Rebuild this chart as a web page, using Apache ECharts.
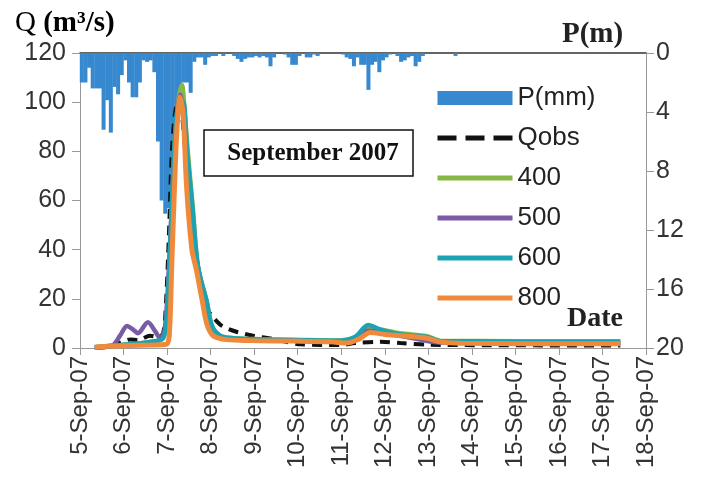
<!DOCTYPE html>
<html>
<head>
<meta charset="utf-8">
<script src="https://cdn.jsdelivr.net/npm/echarts@6/dist/echarts.min.js"></script>
<style>
html,body{margin:0;padding:0;background:#fff}
#main{width:703px;height:482px}
</style>
</head>
<body>
<div id="main"></div>
<script>
// rain in 2-hour steps starting 5-Sep 00:00
var rainStart = 5;
var rainStep = 1 / 12;
var rain2h = [
    2.0, 2.0, 1.0, 2.4, 2.4, 2.4, 5.2, 3.2, 5.4, 2.3, 2.8, 1.5,
    0.5, 2.0, 3.0, 3.0, 2.0, 0.5, 0.6, 0.5, 1.3, 6.0, 10.0, 10.9,
    10.5, 8.0, 6.0, 4.0, 2.0, 2.0, 2.7, 0.6, 0.3, 0.3, 0.8, 0.3,
    0.2, 0.2, 0, 0.2, 0, 0, 0.2, 0.4, 0.6, 0.4, 0.3, 0.3,
    0.2, 0.3, 0.2, 0.3, 0.9, 0.3, 0, 0, 0.1, 0.3, 0.8, 0.8,
    0.2, 0, 0.3, 0.3, 0.1, 0.2, 0, 0, 0, 0, 0, 0,
    0.1, 0.3, 0.4, 0.9, 0.3, 0.8, 0.8, 2.5, 0.8, 0.6, 1.3, 0.5,
    0.3, 0.1, 0, 0.2, 0.6, 0.5, 0.3, 0.2, 0.9, 0.6, 0.2, 0,
    0, 0, 0, 0, 0, 0, 0, 0.2
];

var qobs = [[5.34,0.2],[5.69,0.5],[5.97,2.5],[6.15,3.5],[6.33,3.2],[6.61,5],[6.79,4.5],[6.91,6],
    [6.98,20],[7.05,50],[7.11,80],[7.18,95],[7.25,100],[7.34,95],[7.44,75],[7.57,45],[7.76,25],
    [7.92,16],[8.06,12.5],[8.26,9],[8.61,6.5],[8.98,5],[9.48,3.5],[10.06,1.5],[10.98,1.2],
    [11.32,2.0],[11.9,2.5],[12.36,2],[13.05,1.3],[17.41,1.0]];

var q400 = [[5.34,0.3],[6.15,1.5],[6.61,2.5],[6.91,4],[7.0,15],[7.09,48],[7.18,85],[7.27,102],
    [7.34,107],[7.42,92],[7.5,75],[7.6,55],[7.71,33],[7.91,19],[8.03,9],[8.22,5],[8.52,4],
    [9.14,3.6],[10.06,3.3],[10.98,3.1],[11.32,4.5],[11.62,8.3],[11.9,7.5],[12.36,6],[12.97,4.8],
    [13.28,3.0],[17.41,2.7]];

var q500 = [[5.34,0.3],[5.74,1],[5.92,5],[6.08,9],[6.22,7.5],[6.33,6],[6.56,10.5],[6.72,7],
    [6.84,4],[6.95,8],[7.05,35],[7.14,70],[7.23,95],[7.3,103],[7.39,92],[7.48,70],[7.6,45],
    [7.76,28],[7.92,12],[8.1,5],[8.52,3.5],[10.06,3],[11.13,2.5],[11.62,7],[12.36,5],
    [13.28,2.2],[17.41,2.0]];

var q600 = [[5.34,0.3],[6.15,1.5],[6.61,2.5],[6.91,4],[7.0,15],[7.09,50],[7.18,85],[7.28,100],
    [7.37,100],[7.46,80],[7.57,60],[7.71,33],[7.91,19],[8.03,9],[8.22,5],[8.52,4],[9.14,3.5],
    [10.06,3.2],[10.98,3.0],[11.32,4.5],[11.62,9.4],[11.9,7.5],[12.36,5.5],[12.97,4.5],
    [13.28,2.8],[17.41,2.5]];

var q800 = [[5.34,0.3],[5.69,0.8],[6.15,1.0],[6.61,1.2],[6.98,1.5],[7.05,5],[7.11,35],[7.18,70],
    [7.23,90],[7.3,102],[7.37,95],[7.45,65],[7.57,40],[7.67,32],[7.8,20],[7.91,10],[8.06,5],
    [8.37,3.4],[8.91,3.0],[9.9,2.8],[10.75,2.5],[11.13,2.0],[11.39,3.5],[11.67,6.3],[12.01,5.5],
    [12.36,5.0],[12.97,4.0],[13.28,2.5],[13.74,1.9],[17.41,1.7]];

var rainData = rain2h.map(function (v, i) {
    return [rainStart + (i + 0.5) * rainStep, v];
});

var myChart = echarts.init(document.getElementById('main'));
var serif = 'Liberation Serif';
var sans = 'Liberation Sans';

function lineSeries(name, data, color, width, dashed) {
    return {
        name: name,
        type: 'line',
        smooth: 0.3,
        symbol: 'none',
        yAxisIndex: 0,
        lineStyle: {color: color, width: width, type: dashed ? [10, 7] : 'solid'},
        itemStyle: {color: color},
        data: data
    };
}

// hide the dot that the legend puts on line icons
function lineKey(name, dash) {
    var k = {name: name, itemStyle: {opacity: 0}};
    if (dash) k.lineStyle = {type: dash};
    return k;
}

var option = {
    backgroundColor: '#fff',
    animation: false,
    grid: {left: 80, right: 57, top: 53, bottom: 134},
    legend: {
        orient: 'vertical',
        left: 430,
        top: 80,
        itemWidth: 75,
        itemHeight: 14,
        itemGap: 14,
        lineStyle: {width: 5},
        textStyle: {fontFamily: sans, fontSize: 26, color: '#222', lineHeight: 20},
        data: [
            {name: 'P(mm)', icon: 'rect'},
            lineKey('Qobs', [19, 9]), lineKey('400'), lineKey('500'), lineKey('600'), lineKey('800')
        ]
    },
    xAxis: [{
        type: 'value',
        min: 5,
        max: 18,
        interval: 1,
        axisLine: {lineStyle: {color: '#999'}},
        axisTick: {show: true, length: 7, lineStyle: {color: '#999'}},
        splitLine: {show: false},
        axisLabel: {
            rotate: 90,
            margin: 8,
            fontFamily: sans,
            fontSize: 24,
            color: '#333',
            formatter: function (v) { return v + '-Sep-07'; }
        }
    }, {
        type: 'value',
        position: 'top',
        min: 5,
        max: 18,
        axisLine: {show: true, lineStyle: {color: '#333', width: 1.5}},
        axisTick: {show: false},
        axisLabel: {show: false},
        splitLine: {show: false}
    }],
    yAxis: [{
        type: 'value',
        min: 0,
        max: 120,
        interval: 20,
        axisLine: {show: true, lineStyle: {color: '#999'}},
        axisTick: {show: true, length: 8, lineStyle: {color: '#999'}},
        splitLine: {show: false},
        axisLabel: {fontFamily: sans, fontSize: 25, color: '#333', margin: 14}
    }, {
        type: 'value',
        min: 0,
        max: 20,
        interval: 4,
        inverse: true,
        position: 'right',
        axisLine: {show: true, lineStyle: {color: '#999'}},
        axisTick: {show: true, length: 8, lineStyle: {color: '#999'}},
        splitLine: {show: false},
        axisLabel: {fontFamily: sans, fontSize: 25, color: '#333', margin: 10}
    }],
    series: [
        {
            name: 'P(mm)',
            type: 'bar',
            xAxisIndex: 0,
            yAxisIndex: 1,
            barWidth: 4,
            itemStyle: {color: '#3688cf'},
            data: rainData
        },
        lineSeries('Qobs', qobs, '#111', 4, true),
        lineSeries('400', q400, '#86b845', 4.5, false),
        lineSeries('500', q500, '#7a5ba6', 4.5, false),
        lineSeries('600', q600, '#1ba2b3', 4.5, false),
        lineSeries('800', q800, '#ef8a3c', 5, false)
    ],
    graphic: [
        {
            type: 'text',
            left: 15,
            top: 9,
            style: {
                text: '{a|Q }{b|(m³/s)}',
                rich: {
                    a: {fontFamily: serif, fontSize: 29, color: '#222'},
                    b: {fontFamily: serif, fontSize: 29, fontWeight: 'bold', color: '#222'}
                }
            }
        },
        {
            type: 'text',
            left: 562,
            top: 20,
            style: {text: 'P(m)', fontFamily: serif, fontSize: 29, fontWeight: 'bold', fill: '#222'}
        },
        {
            type: 'text',
            left: 567,
            top: 305,
            style: {text: 'Date', fontFamily: serif, fontSize: 28, fontWeight: 'bold', fill: '#222'}
        },
        {
            type: 'rect',
            shape: {x: 204, y: 130, width: 209, height: 46},
            style: {fill: '#fff', stroke: '#111', lineWidth: 1.5},
            z: 100
        },
        {
            type: 'text',
            x: 313,
            y: 154,
            style: {
                text: 'September 2007',
                fontFamily: serif,
                fontSize: 25,
                fontWeight: 'bold',
                fill: '#111',
                align: 'center',
                verticalAlign: 'middle'
            },
            z: 101
        }
    ]
};
myChart.setOption(option);
</script>
</body>
</html>
